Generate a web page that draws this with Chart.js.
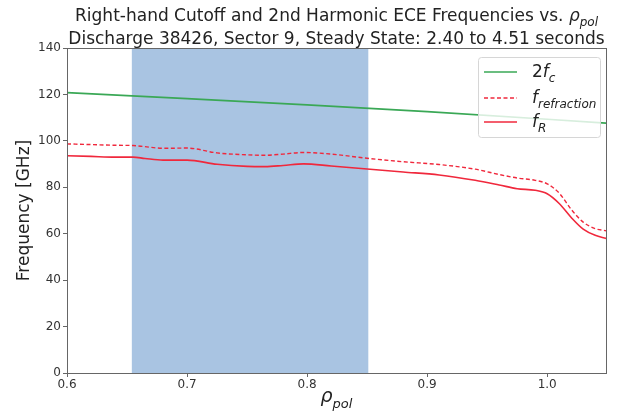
<!DOCTYPE html>
<html><head><meta charset="utf-8">
<script src="https://cdn.jsdelivr.net/npm/chart.js@4.4.1/dist/chart.umd.min.js"></script>
<style>html,body{margin:0;padding:0;background:#fff}#wrap{width:617px;height:414px}</style>
</head><body><div id="wrap"><canvas id="c" width="617" height="414"></canvas></div>
<script>
// ---- data ----
const rhoR = [0.60,0.62,0.64,0.655,0.665,0.68,0.70,0.725,0.75,0.765,0.78,0.797,0.82,0.85,0.88,0.91,0.94,0.96,0.975,0.99,1.00,1.01,1.02,1.03,1.04,1.049];
const fR = [93.6,93.3,93.0,93.0,92.4,91.7,91.7,89.9,89.0,88.9,89.4,90.1,89.2,87.9,86.6,85.3,83.0,81.0,79.4,78.7,77.2,73.0,67.0,62.0,59.3,58.0];
const fRefraction = [98.7,98.4,98.1,98.0,97.5,96.8,96.9,94.8,94.0,93.8,94.3,95.0,94.3,92.5,91.0,89.8,87.8,85.5,84.0,83.0,81.5,77.5,70.5,65.0,62.2,61.3];
const rhoC = [0.60,0.70,0.80,0.90,1.00,1.049];
const f2c = [120.8,118.2,115.5,112.6,109.3,107.6];
const shadeRange = [0.654, 0.851];
const xTicks = [0.6,0.7,0.8,0.9,1.0];
const yTicks = [0,20,40,60,80,100,120,140];
const titleLine1 = "Right-hand Cutoff and 2nd Harmonic ECE Frequencies vs. ";
const titleLine2 = "Discharge 38426, Sector 9, Steady State: 2.40 to 4.51 seconds";
const yLabel = "Frequency [GHz]";
const seriesNames = [["2","f","c"],["","f","refraction"],["","f","R"]];

const FONT = '"DejaVu Sans", sans-serif';
const GREEN = '#3aa856', RED = '#f0283c', SHADE = '#a9c4e2', AX = '#666';

function pts(xs, ys){ return xs.map((x,i)=>({x:x,y:ys[i]})); }

// draw text with math-like italic + subscript parts; returns width
function mathParts(ctx, parts, x, y, draw){
  let cx = x;
  for (const p of parts){
    ctx.font = (p.it ? 'italic ' : '') + p.size + 'px ' + FONT;
    const w = ctx.measureText(p.t).width;
    if (draw) ctx.fillText(p.t, cx, y + (p.sub ? p.size*0.45 : 0));
    cx += w;
  }
  return cx - x;
}

const deco = {
  id: 'deco',
  beforeDatasetsDraw(chart){
    const {ctx, chartArea:a, scales:{x}} = chart;
    ctx.save();
    const x0 = x.getPixelForValue(shadeRange[0]), x1 = x.getPixelForValue(shadeRange[1]);
    ctx.fillStyle = SHADE;
    ctx.fillRect(x0, a.top, x1-x0, a.bottom-a.top);
    ctx.restore();
  },
  afterDraw(chart){
    const {ctx, chartArea:a} = chart;
    ctx.save();
    // frame
    ctx.strokeStyle = AX; ctx.lineWidth = 1;
    ctx.strokeRect(Math.round(a.left)+0.5, Math.round(a.top)+0.5, Math.round(a.right-a.left), Math.round(a.bottom-a.top));
    // title
    ctx.fillStyle = '#222'; ctx.textBaseline = 'alphabetic'; ctx.textAlign = 'left';
    const cx = (a.left + a.right)/2;
    const t1 = [{t:titleLine1,size:17},{t:'ρ',size:17,it:true},{t:'pol',size:12,it:true,sub:true}];
    let w = mathParts(ctx, t1, 0, 0, false);
    mathParts(ctx, t1, cx - w/2, 21, true);
    const t2 = [{t:titleLine2,size:17}];
    w = mathParts(ctx, t2, 0, 0, false);
    mathParts(ctx, t2, cx - w/2, 43.5, true);
    // x label
    const xl = [{t:'ρ',size:19,it:true},{t:'pol',size:13,it:true,sub:true}];
    w = mathParts(ctx, xl, 0, 0, false);
    mathParts(ctx, xl, cx - w/2, 402, true);
    // legend
    const lx = 478, ly = 57, lw = 122, lh = 80;
    ctx.beginPath(); ctx.roundRect(lx+0.5, ly+0.5, lw, lh, 3);
    ctx.fillStyle = 'rgba(255,255,255,0.8)'; ctx.fill();
    ctx.strokeStyle = '#d6d6d6'; ctx.lineWidth = 1; ctx.stroke();
    const rows = [72, 98, 122];
    chart.data.datasets.forEach((ds, i) => {
      const y = rows[i];
      ctx.beginPath(); ctx.strokeStyle = ds.borderColor; ctx.lineWidth = 1.6;
      ctx.setLineDash(ds.borderDash || []);
      ctx.moveTo(484, y); ctx.lineTo(517, y); ctx.stroke();
      ctx.setLineDash([]);
      const n = seriesNames[i];
      const parts = [];
      if (n[0]) parts.push({t:n[0],size:17});
      parts.push({t:n[1],size:17,it:true});
      parts.push({t:n[2],size:12,it:true,sub:true});
      ctx.fillStyle = '#222';
      mathParts(ctx, parts, 532, y + 5, true);
    });
    ctx.restore();
  }
};

new Chart(document.getElementById('c'), {
  type: 'line',
  data: {
    datasets: [
      {label:'2fc', data: pts(rhoC, f2c), borderColor: GREEN, borderWidth: 1.7, pointRadius: 0, tension: 0},
      {label:'frefraction', data: pts(rhoR, fRefraction), borderColor: RED, borderWidth: 1.4, borderDash: [4,2.5], pointRadius: 0, cubicInterpolationMode: 'monotone'},
      {label:'fR', data: pts(rhoR, fR), borderColor: RED, borderWidth: 1.6, pointRadius: 0, cubicInterpolationMode: 'monotone'}
    ]
  },
  options: {
    responsive: false, animation: false, devicePixelRatio: 1,
    layout: {padding: {left: 0, right: 11, top: 48, bottom: 0}},
    plugins: {legend: {display: false}, title: {display: false}, tooltip: {enabled: false}},
    scales: {
      x: {
        type: 'linear', min: 0.6, max: 1.049,
        afterBuildTicks: s => { s.ticks = xTicks.map(v => ({value: v})); },
        afterFit: s => { s.height = 41; },
        ticks: {color: '#333', font: {family: FONT, size: 12}, padding: 1, maxRotation: 0, callback: v => Number(v).toFixed(1)},
        grid: {drawOnChartArea: false, drawTicks: true, tickLength: 4, color: AX},
        border: {display: true, color: AX}
      },
      y: {
        min: 0, max: 140,
        afterBuildTicks: s => { s.ticks = yTicks.map(v => ({value: v})); },
        afterFit: s => { s.width = 67; },
        ticks: {color: '#333', font: {family: FONT, size: 12}, padding: 2},
        grid: {drawOnChartArea: false, drawTicks: true, tickLength: 4, color: AX},
        border: {display: true, color: AX},
        title: {display: true, text: yLabel, color: '#222', font: {family: FONT, size: 17}, padding: {top: 14, bottom: 0}}
      }
    }
  },
  plugins: [deco]
});
</script>
</body></html>
